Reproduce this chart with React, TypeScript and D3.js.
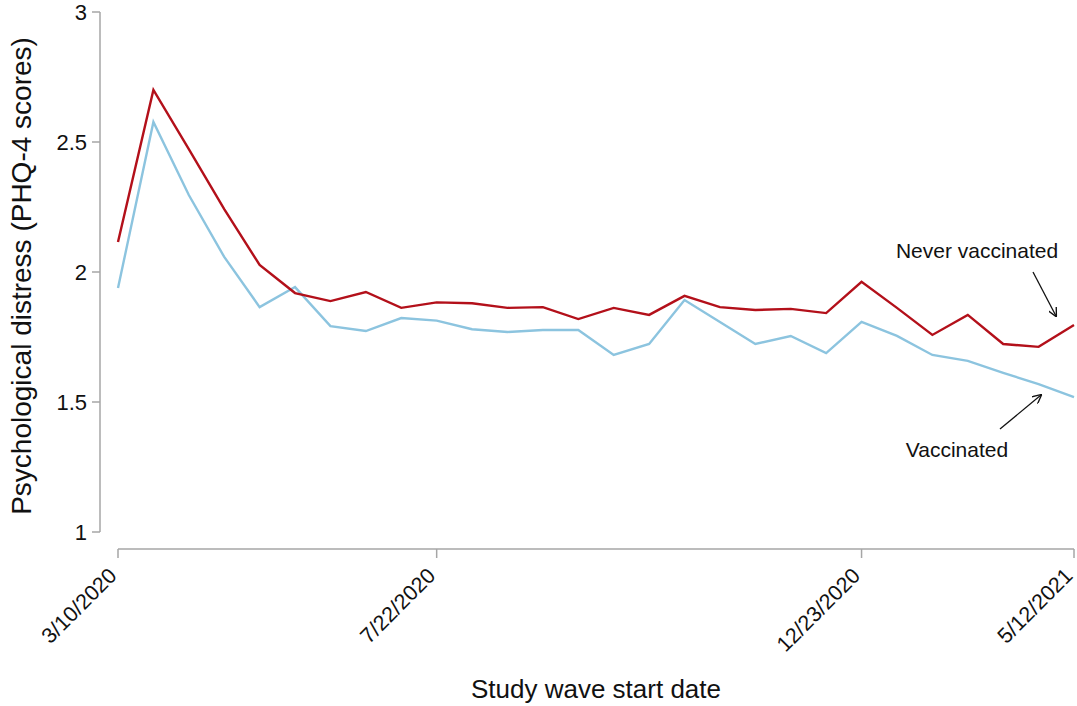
import * as d3 from 'd3';

// 28 study waves, indexed 0..27
const waves = d3.range(28);
const tickWaves = [0, 9, 21, 27];
const tickLabels = ['3/10/2020', '7/22/2020', '12/23/2020', '5/12/2021'];

const neverVaccinated = [
  2.115, 2.70, 2.473, 2.242, 2.027, 1.919, 1.888, 1.923, 1.862, 1.883,
  1.880, 1.862, 1.865, 1.819, 1.862, 1.835, 1.908, 1.865, 1.854, 1.858,
  1.842, 1.962, 1.862, 1.758, 1.835, 1.723, 1.712, 1.796,
];
const vaccinated = [
  1.938, 2.577, 2.296, 2.058, 1.865, 1.942, 1.792, 1.773, 1.823, 1.813,
  1.780, 1.769, 1.777, 1.777, 1.681, 1.723, 1.892, 1.808, 1.723, 1.754,
  1.688, 1.808, 1.754, 1.681, 1.658, 1.612, 1.569, 1.519,
];
const yTicks = [1, 1.5, 2, 2.5, 3];

const W = 1077;
const H = 706;
const font = '"Liberation Sans", Arial, sans-serif';
const axisGray = '#a6a6a6';

const App = () => {
  const x = d3.scalePoint<number>().domain(waves).range([118, 1074]);
  const y = d3.scaleLinear().domain([1, 3]).range([532, 12]);
  const line = d3
    .line<number>()
    .x((_, i) => x(i) as number)
    .y((d) => y(d));

  return (
    <svg width={W} height={H} style={{ position: 'absolute', left: 0, top: 0, background: '#fff' }}>
      <defs>
        <marker id="arr" viewBox="0 0 10 10" refX="9" refY="5" markerWidth="7" markerHeight="7" orient="auto-start-reverse">
          <path d="M0,0 L10,5 L0,10" fill="none" stroke="#111" strokeWidth="1.5" />
        </marker>
      </defs>

      {/* y axis */}
      <line x1={100} x2={100} y1={y(3)} y2={y(1)} stroke={axisGray} strokeWidth={1.5} />
      {yTicks.map((t) => (
        <g key={t}>
          <line x1={92} x2={100} y1={y(t)} y2={y(t)} stroke={axisGray} strokeWidth={1.5} />
          <text x={87} y={y(t)} dy="0.35em" textAnchor="end" fontFamily={font} fontSize={22} fill="#111">
            {t}
          </text>
        </g>
      ))}
      <text
        transform={`translate(31, 276) rotate(-90)`}
        textAnchor="middle"
        fontFamily={font}
        fontSize={28}
        fill="#111"
      >
        Psychological distress (PHQ-4 scores)
      </text>

      {/* x axis */}
      <line x1={x(0)} x2={x(27)} y1={549} y2={549} stroke={axisGray} strokeWidth={1.5} />
      {tickWaves.map((w, i) => (
        <g key={w} transform={`translate(${x(w)}, 549)`}>
          <line y1={0} y2={9} stroke={axisGray} strokeWidth={1.5} />
          <text
            transform="translate(0, 28) rotate(-45)"
            textAnchor="end"
            fontFamily={font}
            fontSize={21.5}
            fill="#111"
          >
            {tickLabels[i]}
          </text>
        </g>
      ))}
      <text x={596} y={698} textAnchor="middle" fontFamily={font} fontSize={26} fill="#111">
        Study wave start date
      </text>

      {/* series */}
      <path d={line(vaccinated) ?? ''} fill="none" stroke="#8cc4df" strokeWidth={2.4} />
      <path d={line(neverVaccinated) ?? ''} fill="none" stroke="#b3101a" strokeWidth={2.4} />

      {/* annotations */}
      <text x={977} y={258} textAnchor="middle" fontFamily={font} fontSize={21} fill="#111">
        Never vaccinated
      </text>
      <line x1={1033} y1={272} x2={1056} y2={316} stroke="#111" strokeWidth={1.3} markerEnd="url(#arr)" />
      <text x={957} y={457} textAnchor="middle" fontFamily={font} fontSize={21} fill="#111">
        Vaccinated
      </text>
      <line x1={1000} y1={429} x2={1041} y2={395} stroke="#111" strokeWidth={1.3} markerEnd="url(#arr)" />
    </svg>
  );
};

export default App;
